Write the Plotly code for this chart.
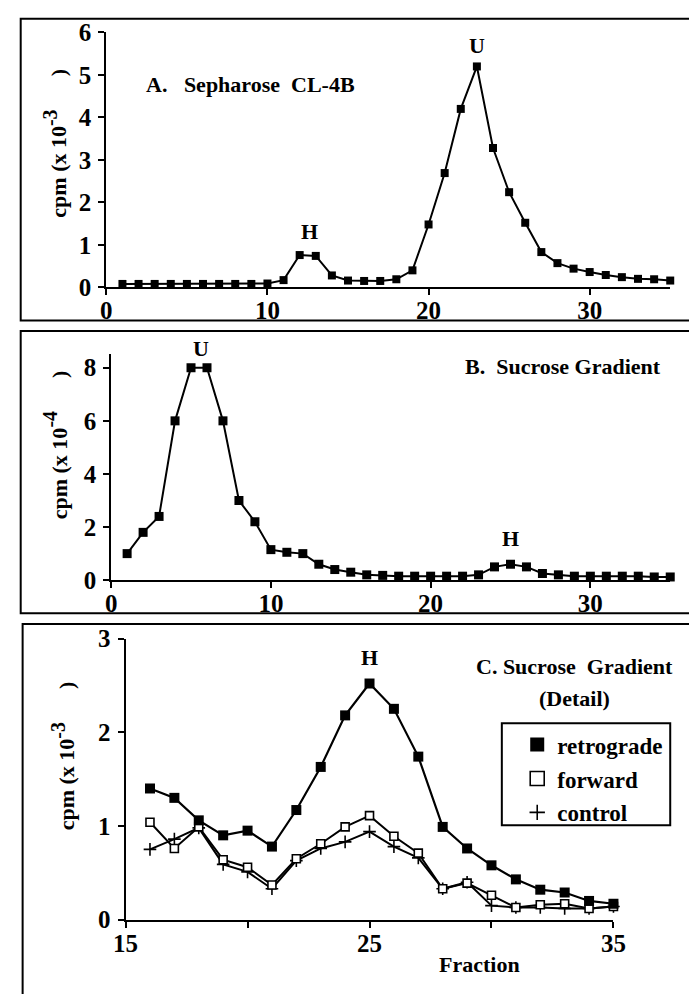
import plotly.graph_objects as go

W, H = 689, 994

# ---------------- data ----------------
fraction_A = [1, 2, 3, 4, 5, 6, 7, 8, 9, 10, 11, 12, 13, 14, 15, 16, 17, 18, 19, 20,
              21, 22, 23, 24, 25, 26, 27, 28, 29, 30, 31, 32, 33, 34, 35]
cpm_A = [0.08, 0.08, 0.08, 0.08, 0.08, 0.08, 0.08, 0.08, 0.08, 0.09, 0.17, 0.76, 0.74,
         0.28, 0.16, 0.15, 0.15, 0.19, 0.40, 1.48, 2.69, 4.20, 5.20, 3.28, 2.24, 1.52,
         0.83, 0.57, 0.44, 0.36, 0.29, 0.24, 0.20, 0.19, 0.16]

fraction_B = [1, 2, 3, 4, 5, 6, 7, 8, 9, 10, 11, 12, 13, 14, 15, 16, 17, 18, 19, 20,
              21, 22, 23, 24, 25, 26, 27, 28, 29, 30, 31, 32, 33, 34, 35]
cpm_B = [1.0, 1.8, 2.4, 6.0, 8.0, 8.0, 6.0, 3.0, 2.2, 1.15, 1.05, 1.0, 0.6, 0.4, 0.3,
         0.2, 0.18, 0.15, 0.15, 0.15, 0.15, 0.15, 0.2, 0.5, 0.6, 0.5, 0.25, 0.2, 0.15,
         0.15, 0.15, 0.15, 0.15, 0.12, 0.12]

fraction_C = [16, 17, 18, 19, 20, 21, 22, 23, 24, 25, 26, 27, 28, 29, 30, 31, 32, 33, 34, 35]
retrograde = [1.40, 1.30, 1.06, 0.90, 0.95, 0.78, 1.17, 1.63, 2.18, 2.52, 2.25, 1.74,
              0.99, 0.76, 0.58, 0.43, 0.32, 0.29, 0.20, 0.17]
forward = [1.04, 0.76, 0.99, 0.64, 0.56, 0.37, 0.65, 0.81, 0.99, 1.11, 0.89, 0.71,
           0.33, 0.39, 0.26, 0.13, 0.16, 0.17, 0.12, 0.14]
control = [0.75, 0.86, 0.98, 0.59, 0.51, 0.33, 0.63, 0.76, 0.83, 0.94, 0.78, 0.66,
           0.33, 0.40, 0.15, 0.13, 0.13, 0.12, 0.12, 0.14]

ticks_A_x = [0, 10, 20, 30]
ticks_A_y = [0, 1, 2, 3, 4, 5, 6]
ticks_B_x = [0, 10, 20, 30]
ticks_B_y = [0, 2, 4, 6, 8]
ticks_C_x = [15, 25, 35]
minor_C_x = [20, 30]
ticks_C_y = [0, 1, 2, 3]

FONT = "Liberation Serif"


def px(x):
    return x / W


def py(y):
    return 1 - y / H


fig = go.Figure()

black = "black"
fig.add_trace(go.Scatter(x=fraction_A, y=cpm_A, mode="lines+markers", xaxis="x", yaxis="y",
                         line=dict(color=black, width=2),
                         marker=dict(symbol="square", size=8, color=black),
                         showlegend=False, cliponaxis=False))
fig.add_trace(go.Scatter(x=fraction_B, y=cpm_B, mode="lines+markers", xaxis="x2", yaxis="y2",
                         line=dict(color=black, width=2),
                         marker=dict(symbol="square", size=9, color=black),
                         showlegend=False, cliponaxis=False))
fig.add_trace(go.Scatter(x=fraction_C, y=control, mode="lines+markers", xaxis="x3", yaxis="y3",
                         line=dict(color=black, width=2),
                         marker=dict(symbol="cross-thin", size=9, color=black,
                                     line=dict(color=black, width=1.6)),
                         showlegend=False, cliponaxis=False))
fig.add_trace(go.Scatter(x=fraction_C, y=forward, mode="lines+markers", xaxis="x3", yaxis="y3",
                         line=dict(color=black, width=2),
                         marker=dict(symbol="square", size=8, color="white",
                                     line=dict(color=black, width=1.6)),
                         showlegend=False, cliponaxis=False))
fig.add_trace(go.Scatter(x=fraction_C, y=retrograde, mode="lines+markers", xaxis="x3", yaxis="y3",
                         line=dict(color=black, width=2.2),
                         marker=dict(symbol="square", size=10, color=black),
                         showlegend=False, cliponaxis=False))

# legend-only entries
fig.add_trace(go.Scatter(x=[None], y=[None], mode="markers", xaxis="x3", yaxis="y3",
                         name="retrograde", legendgroup="a",
                         marker=dict(symbol="square", size=14, color=black)))
fig.add_trace(go.Scatter(x=[None], y=[None], mode="markers", xaxis="x3", yaxis="y3",
                         name="forward", legendgroup="b",
                         marker=dict(symbol="square", size=14, color="white",
                                     line=dict(color=black, width=1.6))))
fig.add_trace(go.Scatter(x=[None], y=[None], mode="markers", xaxis="x3", yaxis="y3",
                         name="control", legendgroup="c",
                         marker=dict(symbol="cross-thin", size=11, color=black,
                                     line=dict(color=black, width=1.6))))

tickfont = dict(family=FONT, size=25, color=black, weight="bold")
axis_common = dict(showline=True, linecolor=black, linewidth=2, ticks="outside",
                   ticklen=6, tickwidth=2, tickcolor=black, showgrid=False,
                   zeroline=False, tickfont=tickfont)
xcommon = dict(axis_common, ticklabelstandoff=-6)
ycommon = dict(axis_common, ticklabelstandoff=2)

fig.update_layout(
    width=W, height=H, margin=dict(l=0, r=0, t=0, b=0),
    paper_bgcolor="white", plot_bgcolor="white",
    font=dict(family=FONT, size=22, color=black, weight="bold"),
    xaxis=dict(domain=[px(97), px(683)], range=[0, 35], anchor="y",
               tickvals=ticks_A_x, **xcommon),
    yaxis=dict(domain=[py(282), py(20)], range=[0, 6], anchor="x",
               tickvals=ticks_A_y, **ycommon),
    xaxis2=dict(domain=[px(102), px(683)], range=[0, 35], anchor="y2",
                tickvals=ticks_B_x, **xcommon),
    yaxis2=dict(domain=[py(583), py(351)], range=[0, 8.5], anchor="x2",
                tickvals=ticks_B_y, **ycommon),
    xaxis3=dict(domain=[px(117), px(624)], range=[15, 35], anchor="y3",
                tickvals=ticks_C_x,
                minor=dict(tickvals=minor_C_x, ticks="outside", ticklen=6,
                           tickwidth=2, tickcolor=black, showgrid=False),
                **xcommon),
    yaxis3=dict(domain=[py(932), py(643)], range=[0, 3], anchor="x3",
                tickvals=ticks_C_y, **ycommon),
    showlegend=True,
    legend=dict(x=px(524), y=py(730), xanchor="left", yanchor="top",
                bgcolor="rgba(0,0,0,0)", borderwidth=0,
                font=dict(family=FONT, size=23, color=black, weight="bold"),
                traceorder="grouped", tracegroupgap=1, itemsizing="trace"),
)

# panel frames and legend box
frame = dict(type="rect", xref="paper", yref="paper", line=dict(color=black, width=2),
             fillcolor="rgba(0,0,0,0)", layer="below")
fig.add_shape(x0=px(8), x1=px(720), y0=py(316), y1=py(6), **frame)
fig.add_shape(x0=px(8), x1=px(720), y0=py(617), y1=py(327), **frame)
fig.add_shape(x0=px(10), x1=px(720), y0=py(1020), y1=py(628), **frame)
fig.add_shape(x0=px(508), x1=px(683), y0=py(835), y1=py(730), **frame)


def note(text, x, y, size=22, xanchor="center", angle=0):
    fig.add_annotation(text=text, x=px(x), y=py(y), xref="paper", yref="paper",
                       showarrow=False, xanchor=xanchor, yanchor="middle",
                       textangle=angle,
                       font=dict(family=FONT, size=size, color=black, weight="bold"))


NB = "\u00a0"
note("A." + NB * 3 + "Sepharose" + NB * 2 + "CL-4B", 136, 73, 22, "left")
note("H", 308, 225)
note("U", 482, 33)
note("B." + NB * 2 + "Sucrose Gradient", 675, 363, 22, "right")
note("U", 195, 345)
note("H", 517, 540)
note("H", 370, 662)
note("C." + NB + "Sucrose" + NB * 2 + "Gradient", 688, 672, 22, "right")
note("(Detail)", 583, 705)
note("Fraction", 485, 978)


def ytitle(exp):
    return ("cpm (x 10<sup><span style='font-size:20px'>" + exp + "</span></sup>"
            + NB * 6 + ")")


note(ytitle("-3"), 44, 134, 22, "center", -90)
note(ytitle("-4"), 44, 444, 22, "center", -90)
note(ytitle("-3"), 52, 764, 22, "center", -90)

fig.write_html("out.html")
